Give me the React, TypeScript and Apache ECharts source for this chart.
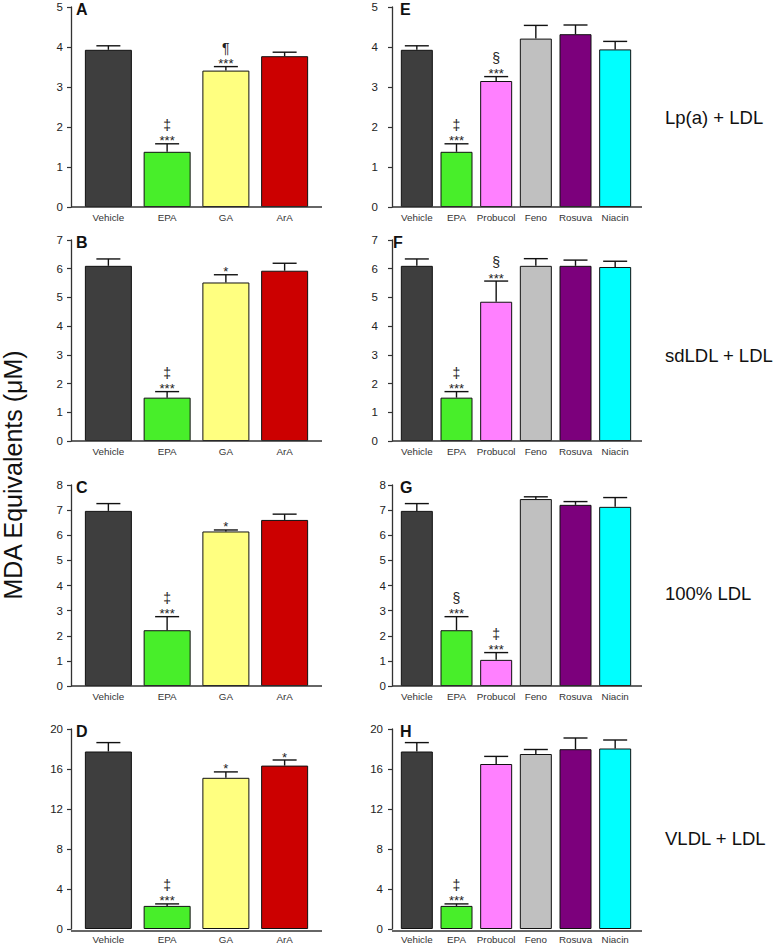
import React, { useEffect, useRef } from 'react';
import * as echarts from 'echarts';

// ---------- data ----------
const leftCats = ['Vehicle', 'EPA', 'GA', 'ArA'];
const rightCats = ['Vehicle', 'EPA', 'Probucol', 'Feno', 'Rosuva', 'Niacin'];
const leftColors = ['#3e3e3e', '#48ee2a', '#ffff80', '#cc0000'];
const rightColors = ['#3e3e3e', '#48ee2a', '#ff80ff', '#c0c0c0', '#7c007c', '#00ffff'];

const rowLabels = ['Lp(a) + LDL', 'sdLDL + LDL', '100% LDL', 'VLDL + LDL'];
const yMaxByRow = [5, 7, 8, 20];
const yIntervalByRow = [1, 1, 1, 4];
const yAxisTitle = 'MDA Equivalents (μM)';

const aMeans = [3.93, 1.38, 3.41, 3.77];
const aErr = [0.1, 0.2, 0.1, 0.1];
const aStars = ['', '***', '***', ''];
const aSyms = ['', '‡', '¶', ''];

const bMeans = [6.1, 1.51, 5.52, 5.93];
const bErr = [0.24, 0.21, 0.27, 0.26];
const bStars = ['', '***', '*', ''];
const bSyms = ['', '‡', '', ''];

const cMeans = [6.97, 2.22, 6.15, 6.61];
const cErr = [0.29, 0.54, 0.06, 0.23];
const cStars = ['', '***', '*', ''];
const cSyms = ['', '‡', '', ''];

const dMeans = [17.75, 2.31, 15.12, 16.34];
const dErr = [0.89, 0.2, 0.59, 0.56];
const dStars = ['', '***', '*', '*'];
const dSyms = ['', '‡', '', ''];

const eMeans = [3.93, 1.38, 3.15, 4.21, 4.32, 3.94];
const eErr = [0.1, 0.2, 0.11, 0.33, 0.23, 0.2];
const eStars = ['', '***', '***', '', '', ''];
const eSyms = ['', '‡', '§', '', '', ''];

const fMeans = [6.1, 1.51, 4.85, 6.1, 6.1, 6.06];
const fErr = [0.24, 0.21, 0.72, 0.25, 0.2, 0.2];
const fStars = ['', '***', '***', '', '', ''];
const fSyms = ['', '‡', '§', '', '', ''];

const gMeans = [6.97, 2.22, 1.04, 7.44, 7.21, 7.13];
const gErr = [0.29, 0.54, 0.29, 0.09, 0.13, 0.37];
const gStars = ['', '***', '***', '', '', ''];
const gSyms = ['', '§', '‡', '', '', ''];

const hMeans = [17.75, 2.31, 16.5, 17.5, 17.98, 18.05];
const hErr = [0.89, 0.2, 0.76, 0.45, 1.12, 0.85];
const hStars = ['', '***', '', '', '', ''];
const hSyms = ['', '‡', '', '', '', ''];

// ---------- layout ----------
const FONT = 'Liberation Sans, Arial, Helvetica, sans-serif';
const rowTops = [7, 240, 485, 729];
const rowBottoms = [207, 441, 686, 931];
const LEFT = { gridLeft: 79, gridWidth: 235, axisX: 71, lineEnd: 322, barWidth: 47, letterX: 76, labelMargin: 8 };
const RIGHT = { gridLeft: 397, gridWidth: 238, axisX: 392, lineEnd: 642, barWidth: 32, letterX: 400, labelMargin: 9 };
const rightLabelMargins = [14, 14, 6, 9];
const rightLetterX = [400, 393, 400, 400];

type Panel = {
  letter: string;
  side: 'L' | 'R';
  row: number;
  cats: string[];
  colors: string[];
  means: number[];
  err: number[];
  stars: string[];
  syms: string[];
};

const panels: Panel[] = [
  { letter: 'A', side: 'L', row: 0, cats: leftCats, colors: leftColors, means: aMeans, err: aErr, stars: aStars, syms: aSyms },
  { letter: 'B', side: 'L', row: 1, cats: leftCats, colors: leftColors, means: bMeans, err: bErr, stars: bStars, syms: bSyms },
  { letter: 'C', side: 'L', row: 2, cats: leftCats, colors: leftColors, means: cMeans, err: cErr, stars: cStars, syms: cSyms },
  { letter: 'D', side: 'L', row: 3, cats: leftCats, colors: leftColors, means: dMeans, err: dErr, stars: dStars, syms: dSyms },
  { letter: 'E', side: 'R', row: 0, cats: rightCats, colors: rightColors, means: eMeans, err: eErr, stars: eStars, syms: eSyms },
  { letter: 'F', side: 'R', row: 1, cats: rightCats, colors: rightColors, means: fMeans, err: fErr, stars: fStars, syms: fSyms },
  { letter: 'G', side: 'R', row: 2, cats: rightCats, colors: rightColors, means: gMeans, err: gErr, stars: gStars, syms: gSyms },
  { letter: 'H', side: 'R', row: 3, cats: rightCats, colors: rightColors, means: hMeans, err: hErr, stars: hStars, syms: hSyms },
];

function buildOption() {
  const grid: any[] = [];
  const xAxis: any[] = [];
  const yAxis: any[] = [];
  const series: any[] = [];
  const graphic: any[] = [];

  panels.forEach((p, k) => {
    const L = p.side === 'L' ? LEFT : RIGHT;
    const top = rowTops[p.row];
    const bottom = rowBottoms[p.row];
    grid.push({ left: L.gridLeft, width: L.gridWidth, top, height: bottom - top, containLabel: false });
    xAxis.push({
      type: 'category',
      gridIndex: k,
      data: p.cats,
      axisLine: { show: false },
      axisTick: { show: false },
      axisLabel: { interval: 0, fontSize: 9.8, color: '#333', margin: 5, fontFamily: FONT },
      splitLine: { show: false },
    });
    yAxis.push({
      type: 'value',
      gridIndex: k,
      min: 0,
      max: yMaxByRow[p.row],
      interval: yIntervalByRow[p.row],
      offset: L.gridLeft - L.axisX,
      axisLine: { show: true, lineStyle: { color: '#333', width: 1.3 } },
      axisTick: { show: true, length: 4, lineStyle: { color: '#333', width: 1.2 } },
      axisLabel: {
        fontSize: 11.5,
        color: '#222',
        margin: p.side === 'L' ? L.labelMargin : rightLabelMargins[p.row],
        fontFamily: FONT,
      },
      splitLine: { show: false },
    });
    series.push({
      type: 'bar',
      xAxisIndex: k,
      yAxisIndex: k,
      barWidth: L.barWidth,
      z: 2,
      data: p.means.map((m, i) => ({
        value: m,
        itemStyle: { color: p.colors[i], borderColor: '#111', borderWidth: 1 },
      })),
    });
    const stars = p.stars;
    const syms = p.syms;
    series.push({
      type: 'custom',
      xAxisIndex: k,
      yAxisIndex: k,
      z: 3,
      encode: { x: 0, y: 1 },
      data: p.means.map((m, i) => [i, m, p.err[i]]),
      renderItem: (params: any, api: any) => {
        const i = api.value(0);
        const m = api.value(1);
        const e = api.value(2);
        const base = api.coord([i, m]);
        const tp = api.coord([i, m + e]);
        const half = 12;
        const st = { stroke: '#111', lineWidth: 1.4 };
        const children: any[] = [
          { type: 'line', shape: { x1: base[0], y1: base[1], x2: tp[0], y2: tp[1] }, style: st },
          { type: 'line', shape: { x1: tp[0] - half, y1: tp[1], x2: tp[0] + half, y2: tp[1] }, style: st },
        ];
        const s = stars[params.dataIndex];
        const y = syms[params.dataIndex];
        if (s) {
          children.push({
            type: 'text',
            x: tp[0],
            y: tp[1] - 3,
            style: {
              text: s,
              fontSize: 13,
              fontFamily: FONT,
              fill: '#222',
              align: 'center',
              verticalAlign: 'middle',
            },
          });
        }
        if (y) {
          children.push({
            type: 'text',
            x: tp[0],
            y: tp[1] - 19,
            style: {
              text: y,
              fontSize: 14,
              fontFamily: FONT,
              fill: '#222',
              align: 'center',
              verticalAlign: 'middle',
            },
          });
        }
        return { type: 'group', children };
      },
    });

    // extended x-axis baseline
    graphic.push({
      type: 'line',
      shape: { x1: L.axisX, y1: bottom, x2: L.lineEnd, y2: bottom },
      style: { stroke: '#333', lineWidth: 1.3 },
      z: 10,
    });
    // panel letter
    graphic.push({
      type: 'text',
      x: p.side === 'L' ? L.letterX : rightLetterX[p.row],
      y: top + 2,
      style: {
        text: p.letter,
        fontSize: 16,
        fontWeight: 'bold',
        fontFamily: FONT,
        fill: '#111',
        align: 'left',
        verticalAlign: 'middle',
      },
      z: 10,
    });
  });

  const rowLabelY = [117, 355, 593, 838];
  rowLabels.forEach((t, r) => {
    graphic.push({
      type: 'text',
      x: 665,
      y: rowLabelY[r],
      style: { text: t, fontSize: 18.5, fontFamily: FONT, fill: '#111', align: 'left', verticalAlign: 'middle' },
    });
  });

  graphic.push({
    type: 'text',
    x: 13,
    y: 475,
    rotation: Math.PI / 2,
    style: { text: yAxisTitle, fontSize: 25, fontFamily: FONT, fill: '#111', align: 'center', verticalAlign: 'middle' },
  });

  return {
    animation: false,
    backgroundColor: '#ffffff',
    textStyle: { fontFamily: FONT },
    grid,
    xAxis,
    yAxis,
    series,
    graphic,
  };
}

export default function App() {
  const ref = useRef<HTMLDivElement>(null);
  useEffect(() => {
    const chart = echarts.init(ref.current as HTMLDivElement, null, { renderer: 'svg' });
    chart.setOption(buildOption() as any);
    return () => chart.dispose();
  }, []);
  return (
    <div
      ref={ref}
      style={{ position: 'absolute', left: 0, top: 0, width: 777, height: 944, background: '#fff' }}
    />
  );
}
